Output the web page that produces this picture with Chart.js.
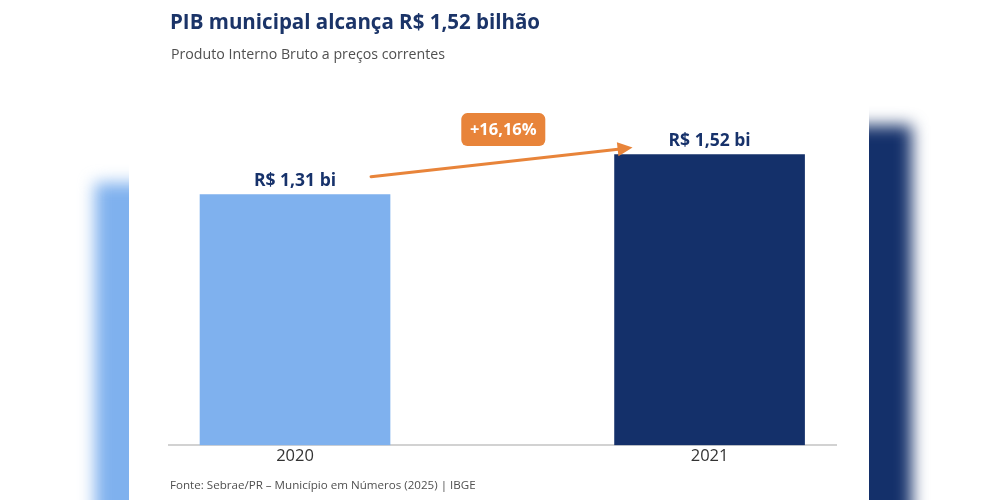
<!DOCTYPE html>
<html>
<head>
<meta charset="utf-8">
<script src="https://cdn.jsdelivr.net/npm/chart.js@4.4.1/dist/chart.umd.min.js"></script>
<style>
  html, body { margin: 0; padding: 0; background: #fff; }
  #wrap { position: relative; width: 999px; height: 500px; overflow: hidden; background: #fff; }
  #bg { position: absolute; left: 0; top: 0; transform-origin: 499.5px 250px; transform: scale(1.35); filter: blur(6px); }
  #panel { position: absolute; left: 129px; top: 0; width: 740px; height: 500px; background: #fff; }
  #main { position: absolute; left: 0; top: 0; }
</style>
</head>
<body>
<div id="wrap">
  <canvas id="bg" width="999" height="500"></canvas>
  <div id="panel"></div>
  <canvas id="main" width="999" height="500"></canvas>
</div>
<script>
// data
const years = [2020, 2021];
const pib = [1.31, 1.52]; // R$ bilhões
const barColors = ['#7fb1ee', '#14306a'];
const growthLabel = '+16,16%';
const title = 'PIB municipal alcança R$ 1,52 bilhão';
const subtitle = 'Produto Interno Bruto a preços correntes';
const source = 'Fonte: Sebrae/PR – Município em Números (2025) | IBGE';

const NAVY = '#17326b';
const ORANGE = '#e8843a';
const FONT = '"Open Sans", "Noto Sans", sans-serif';

const fmt = v => 'R$ ' + v.toFixed(2).replace('.', ',') + ' bi';

const annotations = {
  id: 'annotations',
  afterDatasetsDraw(chart, args, opts) {
    if (!opts.show) return;
    const ctx = chart.ctx;
    const bars = chart.getDatasetMeta(0).data;
    ctx.save();

    // value labels over the bars
    ctx.fillStyle = NAVY;
    ctx.font = 'bold 17.5px ' + FONT;
    ctx.textAlign = 'center';
    ctx.textBaseline = 'middle';
    bars.forEach((b, i) => ctx.fillText(fmt(pib[i]), b.x, b.y - 14));

    // growth arrow
    const a = bars[0], b = bars[1];
    const x1 = a.x + 76, y1 = a.y - 18;
    const x2 = b.x - 77, y2 = b.y - 7;
    const ang = Math.atan2(y2 - y1, x2 - x1);
    ctx.strokeStyle = ORANGE;
    ctx.fillStyle = ORANGE;
    ctx.lineWidth = 3;
    ctx.lineCap = 'round';
    ctx.beginPath();
    ctx.moveTo(x1, y1);
    ctx.lineTo(x2 - 10 * Math.cos(ang), y2 - 10 * Math.sin(ang));
    ctx.stroke();
    ctx.beginPath();
    ctx.moveTo(x2, y2);
    ctx.lineTo(x2 - 15 * Math.cos(ang) + 7 * Math.sin(ang), y2 - 15 * Math.sin(ang) - 7 * Math.cos(ang));
    ctx.lineTo(x2 - 15 * Math.cos(ang) - 7 * Math.sin(ang), y2 - 15 * Math.sin(ang) + 7 * Math.cos(ang));
    ctx.closePath();
    ctx.fill();

    // badge
    const cx = (x1 + x2) / 2 + 1.5, cy = (y1 + y2) / 2 - 32.5;
    ctx.beginPath();
    ctx.roundRect(cx - 42, cy - 16.5, 84, 33, 6);
    ctx.fill();
    ctx.fillStyle = '#fff';
    ctx.font = 'bold 16.5px ' + FONT;
    ctx.fillText(growthLabel, cx, cy + 1);

    // headings and source
    ctx.textAlign = 'left';
    ctx.fillStyle = '#1b3468';
    ctx.font = 'bold 20.5px ' + FONT;
    ctx.fillText(title, 170, 23);
    ctx.fillStyle = '#505050';
    ctx.font = '14.2px ' + FONT;
    ctx.fillText(subtitle, 171, 55);
    ctx.font = '11.6px ' + FONT;
    ctx.fillText(source, 170, 486);
    ctx.restore();
  }
};

function makeChart(id, show) {
  return new Chart(document.getElementById(id), {
    type: 'bar',
    data: {
      datasets: [{
        data: years.map((y, i) => ({ x: y, y: pib[i] })),
        backgroundColor: barColors,
        barThickness: 190,
        borderWidth: 0
      }]
    },
    options: {
      responsive: false,
      animation: false,
      layout: { padding: { left: 169, right: 163, top: 101, bottom: 33 } },
      plugins: {
        legend: { display: false },
        tooltip: { enabled: false },
        title: { display: false },
        annotations: { show: show }
      },
      scales: {
        x: {
          type: 'linear',
          offset: false,
          min: years[0] - 0.304,
          max: years[years.length - 1] + 0.305,
          afterBuildTicks: axis => { axis.ticks = years.map(v => ({ value: v })); },
          grid: { display: false, drawTicks: false },
          border: { display: show, color: '#d2d2d2', width: 2 },
          ticks: { display: show, color: '#333', font: { family: FONT, size: 16.5 }, padding: 1, callback: v => String(v) }
        },
        y: {
          display: false,
          min: 0,
          max: 1.8
        }
      }
    },
    plugins: [annotations]
  });
}

makeChart('bg', false);
makeChart('main', true);
</script>
</body>
</html>
